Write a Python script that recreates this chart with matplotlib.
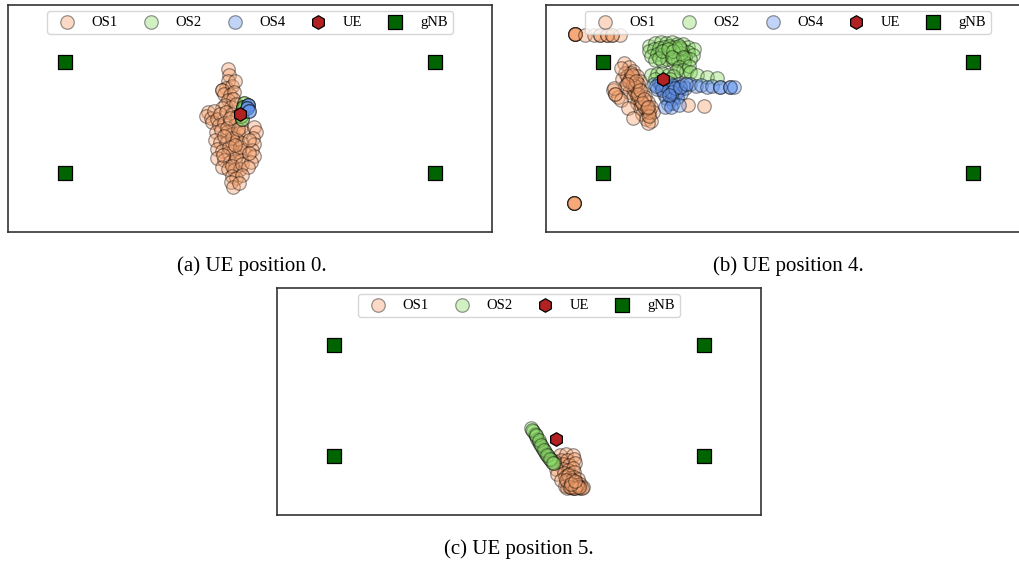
import numpy as np
import matplotlib.pyplot as plt

plt.rcParams["font.family"] = ["Liberation Serif", "DejaVu Serif"]

# gNB corners (m)
gnb_x = [0, 100, 0, 100]
gnb_y = [30, 30, 0, 0]

# ---- UE position 0 ----
ue_0 = (47.3, 16.1)
os1_0 = np.array([
    (44.0, 28.2), (44.3, 26.5), (44.0, 24.8), (43.5, 23.0), (42.5, 22.5), (42.5, 22.5),
    (45.2, 23.5), (46.0, 25.0), (43.0, 21.5), (44.5, 21.0), (45.8, 21.8), (44.0, 19.8),
    (45.5, 20.0), (43.3, 18.5), (44.8, 18.0), (46.2, 18.8), (42.5, 17.5),
    (38.5, 16.5), (38.2, 15.5), (39.5, 15.0), (40.2, 16.8), (39.8, 13.8), (41.0, 14.5),
    (42.0, 16.0), (43.5, 16.5), (45.0, 16.0), (46.5, 15.5), (41.5, 13.0), (43.0, 13.5),
    (44.5, 13.8), (46.0, 13.0), (47.5, 12.5), (40.8, 11.2), (42.2, 11.5), (43.8, 11.0),
    (45.2, 10.5), (46.8, 10.8), (48.2, 11.2), (40.5, 9.0), (42.0, 8.5), (43.5, 8.0),
    (45.0, 8.2), (46.5, 8.8), (47.8, 8.0), (41.0, 6.5), (42.5, 6.0), (44.0, 5.5),
    (45.5, 6.0), (47.0, 5.8), (48.5, 6.2), (41.2, 4.0), (43.0, 3.5), (44.5, 3.0),
    (46.0, 3.2), (47.5, 3.5), (42.5, 1.5), (44.0, 1.0), (45.8, 0.8), (47.2, 1.2),
    (43.8, 12.2), (45.0, 9.5), (46.2, 4.5), (44.2, 7.0), (46.8, 12.0), (47.2, 7.0),
    (43.0, 10.0), (44.5, 15.0), (46.0, 7.5), (45.2, 2.0), (42.8, 4.8), (47.8, 2.5),
    (51.0, 12.5), (51.5, 11.0), (50.8, 9.5), (51.2, 7.8), (50.5, 6.2), (51.0, 4.5),
    (50.2, 3.0), (49.5, 1.5), (49.8, 9.0), (49.6, 5.5),
    (45.0, -0.8), (46.2, -1.5), (47.8, -0.5), (44.8, -2.5), (45.5, -3.8), (47.0, -2.8),
])
os2_0 = np.array([
    (48.3, 19.0), (48.0, 18.0), (47.8, 16.8), (47.6, 15.5), (47.9, 14.6), (48.5, 17.5),
    (48.3, 19.0), (48.0, 18.0), (47.6, 15.5), (47.9, 14.6), (48.5, 17.5), (48.0, 18.0),
])
os4_0 = np.array([
    (49.4, 18.3), (49.4, 18.3), (49.4, 18.3), (49.2, 17.5), (49.2, 17.5),
    (49.6, 16.7), (49.6, 16.7),
])

# ---- UE position 4 ----
ue_4 = (16.1, 25.4)
os1_4 = np.array([
    (-7.6, 37.6), (-7.6, 37.6), (-7.6, 37.6), (-7.6, 37.6), (-7.6, 37.6),
    (-4.9, 37.4), (-2.6, 37.4), (-0.8, 37.4), (1.0, 37.4), (2.4, 37.4), (4.6, 37.4),
    (-0.8, 37.4), (1.0, 37.4), (2.4, 37.4),
    (-7.8, -8.1), (-7.8, -8.1), (-7.8, -8.1), (-7.8, -8.1), (-7.8, -8.1),
    (5.5, 29.8), (7.0, 28.8), (8.0, 27.5), (6.0, 27.0), (7.5, 26.0), (9.0, 26.2),
    (5.2, 25.5), (6.8, 24.8), (8.5, 24.5), (10.0, 24.8), (6.0, 23.5), (7.8, 23.2),
    (9.5, 23.0), (7.0, 22.0), (8.8, 21.5), (10.5, 21.8), (8.0, 20.5), (9.8, 20.0),
    (11.2, 20.5), (9.0, 19.0), (10.8, 18.8), (12.0, 19.2), (10.0, 17.5), (11.5, 17.0),
    (12.8, 17.8), (10.5, 16.0), (12.2, 15.8), (13.5, 16.5), (11.5, 14.5), (13.0, 14.2),
    (12.0, 13.5), (7.2, 25.5), (8.2, 22.5), (9.2, 21.0), (11.0, 18.0), (6.5, 26.2),
    (8.0, 24.0), (10.2, 19.5), (12.5, 16.5), (7.5, 27.2), (9.5, 24.0),
    (7.0, 25.0), (8.5, 23.5), (9.5, 21.5), (10.5, 19.0), (11.8, 17.5), (12.5, 15.5),
    (7.8, 26.5), (8.8, 25.0), (10.0, 22.5), (11.0, 20.0), (12.2, 18.0), (6.5, 24.0),
    (2.5, 22.5), (3.2, 21.5), (4.0, 20.5), (4.8, 19.8), (3.0, 23.0), (3.2, 21.5),
    (6.8, 17.5), (8.0, 15.0), (4.8, 28.5), (23.0, 18.5), (27.3, 18.1),
])
os2_4 = np.array([
    (12.5, 34.5), (14.0, 35.3), (15.5, 35.6), (17.0, 35.2), (18.5, 35.5), (20.0, 35.0),
    (21.5, 34.8), (23.0, 34.2), (24.5, 33.5), (12.3, 33.0), (13.8, 33.5), (15.2, 33.8),
    (16.8, 33.4), (18.2, 33.9), (19.8, 33.6), (21.2, 33.2), (22.8, 32.8), (24.2, 32.0),
    (13.0, 31.8), (14.5, 32.2), (16.0, 31.9), (17.5, 32.3), (19.0, 31.8), (20.5, 32.0),
    (22.0, 31.5), (23.5, 31.0), (14.0, 30.5), (15.8, 30.3), (17.2, 30.8), (18.8, 30.2),
    (20.2, 30.6), (21.8, 30.0), (16.5, 34.0), (18.0, 32.8), (19.5, 34.2), (21.0, 32.5),
    (15.0, 31.2), (17.8, 34.5), (20.8, 33.8), (19.2, 31.0),
    (16.0, 33.0), (17.5, 33.5), (19.0, 33.0), (20.5, 34.5), (18.5, 31.5), (21.5, 31.5),
    (20.5, 28.8), (21.5, 28.0), (22.5, 27.5), (23.2, 29.0), (19.8, 27.5), (23.5, 27.4),
    (13.0, 26.5), (14.5, 26.8), (16.0, 27.0), (17.5, 26.6), (19.0, 26.2), (14.0, 25.5),
    (18.0, 25.5), (25.5, 26.5), (28.0, 26.0), (30.7, 25.6),
])
os4_4 = np.array([
    (13.8, 24.0), (15.2, 24.5), (16.5, 23.8), (17.8, 24.3), (19.0, 23.6), (20.2, 24.2),
    (21.5, 23.8), (14.5, 22.8), (16.0, 23.0), (17.5, 22.6), (19.0, 22.9), (20.5, 22.5),
    (22.0, 23.0), (23.5, 24.0), (25.0, 23.6), (26.5, 23.8), (28.0, 23.4), (29.5, 23.6),
    (31.6, 23.3), (31.6, 23.3), (34.3, 23.3), (34.3, 23.3), (35.5, 23.4),
    (16.5, 21.5), (18.0, 21.8), (19.5, 21.2), (21.0, 21.6), (17.0, 20.2), (18.5, 20.0),
    (20.0, 20.5), (17.5, 18.8), (19.0, 19.0), (16.8, 18.0), (18.2, 17.8), (20.5, 18.5),
    (15.5, 24.0), (17.0, 23.5), (18.5, 23.8), (16.0, 22.5), (18.5, 22.0), (19.5, 23.0),
    (14.2, 23.5), (20.8, 23.2), (22.5, 24.2), (17.8, 21.0),
])

# ---- UE position 5 ----
ue_5 = (59.9, 4.5)
os1_5 = np.array([
    (61.2, 0.2), (62.8, 0.5), (64.5, 0.3), (61.5, -1.0), (63.0, -1.2), (64.8, -0.8),
    (62.0, -2.3), (63.6, -2.5), (65.2, -2.0), (61.8, -3.5), (63.2, -3.8), (64.6, -3.2),
    (59.5, -1.5), (60.0, -3.5), (60.3, -5.0),
    (62.2, -4.5), (63.5, -4.8), (64.8, -4.4), (62.5, -5.8), (63.8, -6.0), (65.0, -5.6),
    (66.0, -6.2), (63.0, -7.0), (64.2, -7.2), (65.5, -7.0), (66.5, -7.5), (61.5, -6.5),
    (62.5, -8.2), (63.5, -8.5), (64.5, -8.6), (65.5, -8.5), (66.5, -8.6), (67.2, -8.3),
    (63.0, -8.6), (64.0, -8.4), (65.0, -8.7), (66.0, -8.4), (67.0, -8.6),
    (63.2, -5.2), (64.4, -6.5), (65.8, -7.8), (62.8, -6.6),
    (63.8, -8.5), (65.2, -8.6), (66.3, -8.5), (64.0, -7.5), (65.2, -6.8),
])
os2_5 = np.array([
    (53.3, 7.5), (53.8, 6.8), (54.2, 6.0), (54.6, 5.3), (55.0, 4.6), (55.4, 3.9),
    (55.8, 3.2), (56.2, 2.5), (56.6, 1.8), (57.0, 1.2), (57.4, 0.6), (57.8, 0.0),
    (58.2, -0.6), (58.6, -1.2), (59.0, -1.6), (59.5, -2.0), (53.6, 7.0), (54.5, 5.6),
    (55.3, 4.2), (56.0, 2.9), (56.8, 1.5), (57.6, 0.3), (58.4, -0.9), (59.2, -1.8),
])

c_os1 = "#F5A26F"
c_os2 = "#8EDC6A"
c_os4 = "#6495ED"


def draw_panel(ax, ue, series):
    for label, pts, color in series:
        ax.scatter(pts[:, 0], pts[:, 1], s=95, c=color, edgecolors="black",
                   linewidths=0.9, alpha=0.4, label=label, zorder=2)
    ax.scatter([ue[0]], [ue[1]], s=95, marker="h", c="#B22222",
               edgecolors="black", linewidths=0.9, label="UE", zorder=4)
    ax.scatter(gnb_x, gnb_y, s=100, marker="s", c="#006400",
               edgecolors="black", linewidths=0.9, label="gNB", zorder=3)
    ax.set_xlim(-15.5, 115.5)
    ax.set_ylim(-16, 45.5)
    ax.set_xticks([])
    ax.set_yticks([])
    for sp in ax.spines.values():
        sp.set_color("#333333")
        sp.set_linewidth(1.2)
    ax.legend(loc="upper center", ncol=len(series) + 2, fontsize=10.5,
              columnspacing=1.25, handletextpad=0.7, borderaxespad=0.4,
              borderpad=0.35)


fig = plt.figure(figsize=(10.2, 5.63), dpi=100)
ax_a = fig.add_axes([8 / 1020, 1 - 232 / 563, 484 / 1020, 227 / 563])
ax_b = fig.add_axes([546 / 1020, 1 - 232 / 563, 484 / 1020, 227 / 563])
ax_c = fig.add_axes([277 / 1020, 1 - 515 / 563, 484 / 1020, 227 / 563])

draw_panel(ax_a, ue_0, [("OS1", os1_0, c_os1), ("OS2", os2_0, c_os2),
                        ("OS4", os4_0, c_os4)])
draw_panel(ax_b, ue_4, [("OS1", os1_4, c_os1), ("OS2", os2_4, c_os2),
                        ("OS4", os4_4, c_os4)])
draw_panel(ax_c, ue_5, [("OS1", os1_5, c_os1), ("OS2", os2_5, c_os2)])

fig.text(252 / 1020, 1 - 266 / 563, "(a) UE position 0.", ha="center", va="center", fontsize=15)
fig.text(788 / 1020, 1 - 266 / 563, "(b) UE position 4.", ha="center", va="center", fontsize=15)
fig.text(519 / 1020, 1 - 549 / 563, "(c) UE position 5.", ha="center", va="center", fontsize=15)

fig.savefig("out.png", dpi=100)
